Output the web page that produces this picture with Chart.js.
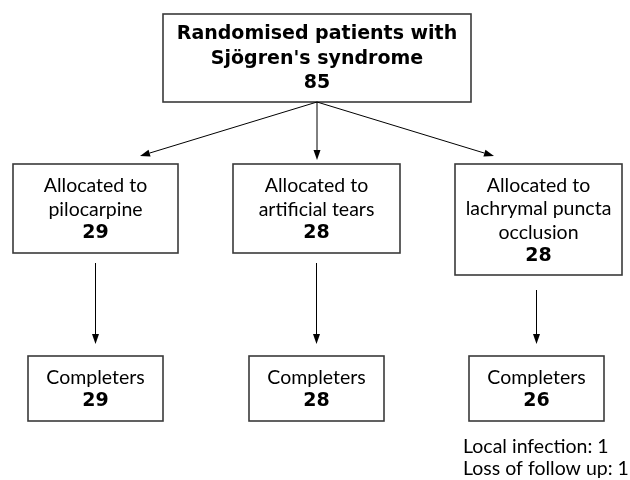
<!DOCTYPE html>
<html lang="en">
<head>
    <meta charset="UTF-8">
    <title>Sjögren's syndrome trial flow</title>
    <style>
        body, html {
            margin: 0;
            background: #fff;
        }
        canvas {
            display: block;
        }
    </style>
</head>
<body>
    <canvas id="flowChart" width="630" height="480"></canvas>
    <script src="https://cdn.jsdelivr.net/npm/chart.js"></script>
    <script>
        // data
        const randomisedTitle = ['Randomised patients with', "Sjögren's syndrome"];
        const randomised = 85;
        const groups = [
            ['Allocated to', 'pilocarpine'],
            ['Allocated to', 'artificial tears'],
            ['Allocated to', 'lachrymal puncta', 'occlusion']
        ];
        const allocated = [29, 28, 28];
        const completerLabel = 'Completers';
        const completers = [29, 28, 26];
        const lostNotes = ['Local infection: 1', 'Loss of follow up: 1'];

        // layout in scale units (x 0..630, y 0..480 top-down)
        const topBox = { x0: 163, x1: 471, y0: 14, y1: 102 };
        const allocBoxes = [
            { x0: 13, x1: 178, y0: 164, y1: 253 },
            { x0: 233, x1: 400, y0: 164, y1: 253 },
            { x0: 455, x1: 622, y0: 164, y1: 275 }
        ];
        const doneBoxes = [
            { x0: 28, x1: 163, y0: 356, y1: 421 },
            { x0: 249, x1: 384, y0: 356, y1: 421 },
            { x0: 469, x1: 604, y0: 356, y1: 421 }
        ];

        const FONT = 'Lato, "Noto Sans", sans-serif';
        const BOLD_FONT = '"DejaVu Sans", sans-serif';

        const flowPlugin = {
            id: 'flow',
            afterDraw(chart) {
                const ctx = chart.ctx;
                const sx = chart.scales.x, sy = chart.scales.y;
                const px = v => sx.getPixelForValue(v);
                const py = v => sy.getPixelForValue(v);

                function box(b) {
                    ctx.save();
                    ctx.strokeStyle = '#3a3a3a';
                    ctx.lineWidth = 1.6;
                    ctx.strokeRect(px(b.x0), py(b.y0), px(b.x1) - px(b.x0), py(b.y1) - py(b.y0));
                    ctx.restore();
                }

                function lines(b, items, gap) {
                    const cx = (px(b.x0) + px(b.x1)) / 2;
                    const cy = (py(b.y0) + py(b.y1)) / 2 + 1;
                    const start = cy - (items.length - 1) * gap / 2;
                    ctx.save();
                    ctx.fillStyle = '#000';
                    ctx.textAlign = 'center';
                    ctx.textBaseline = 'middle';
                    items.forEach((it, i) => {
                        ctx.font = it.bold ? 'bold 19px ' + BOLD_FONT : '19.5px ' + FONT;
                        ctx.fillText(it.text, cx, start + i * gap);
                    });
                    ctx.restore();
                }

                function arrow(x1, y1, x2, y2) {
                    const a = [px(x1), py(y1)], b = [px(x2), py(y2)];
                    const ang = Math.atan2(b[1] - a[1], b[0] - a[0]);
                    const len = 10, hw = 3.5;
                    ctx.save();
                    ctx.strokeStyle = '#000';
                    ctx.fillStyle = '#000';
                    ctx.lineWidth = 1;
                    ctx.beginPath();
                    ctx.moveTo(a[0], a[1]);
                    ctx.lineTo(b[0] - Math.cos(ang) * len, b[1] - Math.sin(ang) * len);
                    ctx.stroke();
                    ctx.beginPath();
                    ctx.moveTo(b[0], b[1]);
                    ctx.lineTo(b[0] - Math.cos(ang) * len - Math.sin(ang) * hw, b[1] - Math.sin(ang) * len + Math.cos(ang) * hw);
                    ctx.lineTo(b[0] - Math.cos(ang) * len + Math.sin(ang) * hw, b[1] - Math.sin(ang) * len - Math.cos(ang) * hw);
                    ctx.closePath();
                    ctx.fill();
                    ctx.restore();
                }

                // top box
                box(topBox);
                lines(topBox, randomisedTitle.map(t => ({ text: t, bold: true }))
                    .concat([{ text: String(randomised), bold: true }]), 24.5);

                // arrows from the top box
                const topMid = (topBox.x0 + topBox.x1) / 2;
                arrow(topMid, topBox.y1, 140, 156);
                arrow(topMid, topBox.y1, topMid, 160);
                arrow(topMid, topBox.y1, 494, 156);

                // allocation boxes, arrows and completers
                allocBoxes.forEach((b, i) => {
                    box(b);
                    lines(b, groups[i].map(t => ({ text: t, bold: false }))
                        .concat([{ text: String(allocated[i]), bold: true }]), 23.5);

                    const d = doneBoxes[i];
                    const mx = (d.x0 + d.x1) / 2;
                    arrow(mx, b.y1 + 10 + (i === 2 ? 5 : 0), mx, d.y0 - 12);

                    box(d);
                    lines(d, [
                        { text: completerLabel, bold: false },
                        { text: String(completers[i]), bold: true }
                    ], 23);
                });

                // losses under the third arm
                ctx.save();
                ctx.fillStyle = '#000';
                ctx.font = '19.5px ' + FONT;
                ctx.textAlign = 'left';
                ctx.textBaseline = 'middle';
                lostNotes.forEach((t, i) => ctx.fillText(t, px(463), py(447 + i * 21.5)));
                ctx.restore();
            }
        };

        new Chart(document.getElementById('flowChart').getContext('2d'), {
            type: 'scatter',
            data: { datasets: [{ data: [] }] },
            options: {
                responsive: false,
                animation: false,
                layout: { padding: 0 },
                plugins: { legend: { display: false }, tooltip: { enabled: false } },
                scales: {
                    x: { type: 'linear', min: 0, max: 630, display: false },
                    y: { type: 'linear', min: 0, max: 480, reverse: true, display: false }
                }
            },
            plugins: [flowPlugin]
        });
    </script>
</body>
</html>
